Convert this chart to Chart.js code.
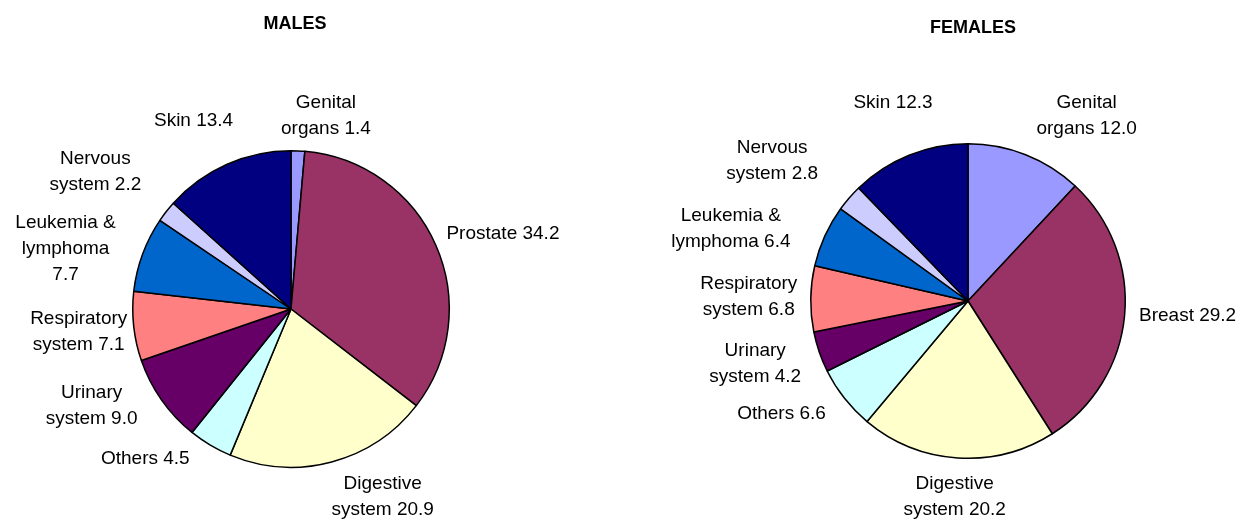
<!DOCTYPE html>
<html>
<head>
<meta charset="utf-8">
<script src="https://cdn.jsdelivr.net/npm/chart.js@4.4.0/dist/chart.umd.min.js"></script>
<style>
  body { margin: 0; background: #fff; }
  #wrap { position: relative; width: 1256px; height: 520px; }
  canvas { position: absolute; top: 0; }
  #malesChart { left: 0; }
  #femalesChart { left: 628px; }
</style>
</head>
<body>
<div id="wrap">
  <canvas id="malesChart" width="628" height="520"></canvas>
  <canvas id="femalesChart" width="628" height="520"></canvas>
</div>
<script>
// categories (line breaks as in the labels)
const maleCategories = ["Genital\norgans", "Prostate", "Digestive\nsystem", "Others", "Urinary\nsystem",
  "Respiratory\nsystem", "Leukemia &\nlymphoma\n", "Nervous\nsystem", "Skin"];
const femaleCategories = ["Genital\norgans", "Breast", "Digestive\nsystem", "Others", "Urinary\nsystem",
  "Respiratory\nsystem", "Leukemia &\nlymphoma", "Nervous\nsystem", "Skin"];

const maleValues = [1.4, 34.2, 20.9, 4.5, 9.0, 7.1, 7.7, 2.2, 13.4];
const femaleValues = [12.0, 29.2, 20.2, 6.6, 4.2, 6.8, 6.4, 2.8, 12.3];

const sliceColors = ["#9999FF", "#993366", "#FFFFCC", "#CCFFFF", "#660066",
  "#FF8080", "#0066CC", "#CCCCFF", "#000080"];

// label shift from the middle of each arc's rim to the text centre
const maleNudge = [[28, -35], [67, -12], [51, 35], [-65, 14], [-70, 6], [-55, 5], [-77, -5], [-71, -40], [-33, -44]];
const femaleNudge = [[61, -39], [63, 0], [-3, 39], [-63, 15], [-64, 12], [-62, -2], [-94, -7], [-77, -37], [-16, -52]];

function labelText(name, value) {
  const sep = name.endsWith("\n") ? "" : " ";
  return name + sep + value.toFixed(1);
}

function makeLabelPlugin(title, titleX, titleY, names, values, nudge) {
  return {
    id: "outsideLabels",
    afterDatasetsDraw(chart) {
      const ctx = chart.ctx;
      const meta = chart.getDatasetMeta(0);
      ctx.save();
      ctx.fillStyle = "#000";
      ctx.textAlign = "center";
      ctx.textBaseline = "middle";
      ctx.font = "bold 18px 'Liberation Sans', Arial, sans-serif";
      ctx.fillText(title, titleX, titleY);
      ctx.font = "19px 'Liberation Sans', Arial, sans-serif";
      meta.data.forEach((arc, i) => {
        const p = arc.getProps(["x", "y", "startAngle", "endAngle", "outerRadius"], true);
        const mid = (p.startAngle + p.endAngle) / 2;
        const cx = p.x + Math.cos(mid) * p.outerRadius + nudge[i][0];
        const cy = p.y + Math.sin(mid) * p.outerRadius + nudge[i][1];
        const lines = labelText(names[i], values[i]).split("\n");
        lines.forEach((line, j) => {
          ctx.fillText(line, cx, cy + (j - (lines.length - 1) / 2) * 26);
        });
      });
      ctx.restore();
    }
  };
}

function makePie(id, names, values, padding, plugin) {
  return new Chart(document.getElementById(id), {
    type: "pie",
    data: {
      labels: names,
      datasets: [{
        data: values,
        backgroundColor: sliceColors,
        borderColor: "#000",
        borderWidth: 1.5
      }]
    },
    options: {
      responsive: false,
      animation: false,
      layout: { padding: padding },
      plugins: {
        legend: { display: false },
        tooltip: { enabled: false }
      }
    },
    plugins: [plugin]
  });
}

makePie("malesChart", maleCategories, maleValues,
  { left: 132, right: 178, top: 150, bottom: 52 },
  makeLabelPlugin("MALES", 295, 24, maleCategories, maleValues, maleNudge));

makePie("femalesChart", femaleCategories, femaleValues,
  { left: 182, right: 130, top: 143, bottom: 61 },
  makeLabelPlugin("FEMALES", 345, 28, femaleCategories, femaleValues, femaleNudge));
</script>
</body>
</html>
